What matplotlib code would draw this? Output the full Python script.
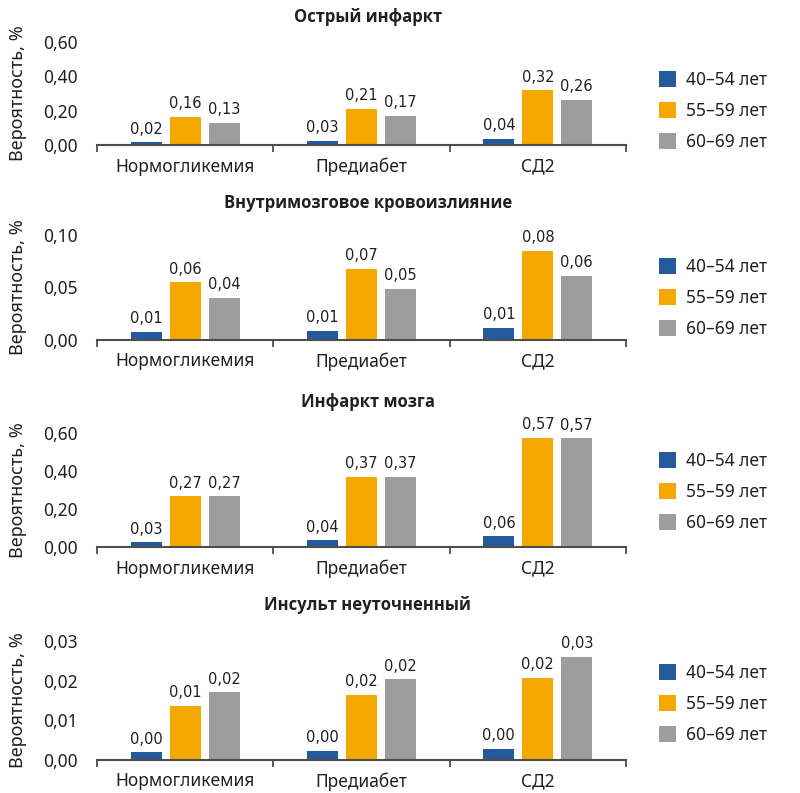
import matplotlib
matplotlib.use("Agg")
import matplotlib.pyplot as plt
import numpy as np
from matplotlib.patches import Patch

plt.rcParams['font.family'] = ['Noto Sans', 'DejaVu Sans']

categories = ["Нормогликемия", "Предиабет", "СД2"]
groups = ["40–54 лет", "55–59 лет", "60–69 лет"]
titles = ["Острый инфаркт", "Внутримозговое кровоизлияние", "Инфаркт мозга", "Инсульт неуточненный"]

# values per panel: rows = age groups, cols = categories
mi_vals = [[0.016, 0.026, 0.036], [0.163, 0.211, 0.320], [0.130, 0.171, 0.262]]
ich_vals = [[0.0076, 0.0086, 0.0114], [0.055, 0.0676, 0.0848], [0.040, 0.0486, 0.061]]
isch_vals = [[0.026, 0.036, 0.056], [0.268, 0.370, 0.574], [0.268, 0.370, 0.573]]
uns_vals = [[0.0020, 0.0023, 0.0028], [0.0136, 0.0164, 0.0207], [0.0171, 0.0204, 0.0260]]

yticks_list = [[0.0, 0.2, 0.4, 0.6], [0.0, 0.05, 0.10], [0.0, 0.2, 0.4, 0.6], [0.0, 0.01, 0.02, 0.03]]
ylims = [0.6, 0.10, 0.6, 0.03]
panel_vals = [mi_vals, ich_vals, isch_vals, uns_vals]

colors = ["#245A9B", "#F5A800", "#9D9D9D"]
txt = "#231F20"
axc = "#4D4D4D"

W, H = 800, 793
fig = plt.figure(figsize=(W / 100, H / 100), dpi=100)

# pixel positions: (axis zero y, axis top y, title y, legend center y)
layout = [(145, 42, 17, 111), (340, 235, 203, 298), (547, 433, 402, 492), (760, 641, 605, 704)]
x0, x1 = 97, 626

bw = 0.176
off = 0.221
x = np.arange(len(categories))

for p in range(4):
    yb, yt, ytitle, yleg = layout[p]
    ax = fig.add_axes([x0 / W, 1 - yb / H, (x1 - x0) / W, (yb - yt) / H])
    vals = panel_vals[p]
    for g in range(3):
        bars = ax.bar(x + (g - 1) * off, vals[g], width=bw, color=colors[g], label=groups[g], zorder=2)
        for b, v in zip(bars, vals[g]):
            ax.annotate(f"{v:.2f}".replace(".", ","), (b.get_x() + b.get_width() / 2, b.get_height()),
                        xytext=(0, 4), textcoords="offset points", ha="center", va="bottom",
                        fontsize=10.5, color=txt, family=['Liberation Sans Narrow', 'DejaVu Sans'])
    ax.set_xlim(-0.5, 2.5)
    ax.set_ylim(0, ylims[p])
    ax.set_yticks(yticks_list[p])
    ax.set_yticklabels([f"{t:.2f}".replace(".", ",") for t in yticks_list[p]], fontsize=12.5, color=txt)
    ax.set_xticks(x)
    ax.set_xticklabels(categories, fontsize=12.5, color=txt)
    ax.set_xticks([-0.5, 0.5, 1.5, 2.5], minor=True)
    ax.tick_params(axis='x', which='major', length=0, pad=9)
    ax.tick_params(axis='x', which='minor', length=5, width=1.3, color=axc, direction='out')
    ax.tick_params(axis='y', length=0, pad=14)
    for s in ['top', 'right', 'left']:
        ax.spines[s].set_visible(False)
    ax.spines['bottom'].set_color(axc)
    ax.spines['bottom'].set_linewidth(1.5)
    ax.set_ylabel("Вероятность, %", fontsize=13, color=txt)
    ax.yaxis.set_label_coords(-0.133, 0.5)
    fig.text((x0 + x1) / 2 / W + 0.008, 1 - ytitle / H, titles[p], ha='center', va='center',
             fontsize=12, fontweight='bold', color=txt, family=['Open Sans', 'DejaVu Sans'])
    handles = [Patch(facecolor=colors[g], label=groups[g]) for g in range(3)]
    fig.legend(handles=handles, loc='center left', bbox_to_anchor=(650 / W, 1 - yleg / H),
               frameon=False, fontsize=12.5, handlelength=1.0, handleheight=1.0,
               handletextpad=0.6, labelspacing=0.75, borderpad=0, labelcolor=txt)

fig.savefig("out.png", dpi=100)
